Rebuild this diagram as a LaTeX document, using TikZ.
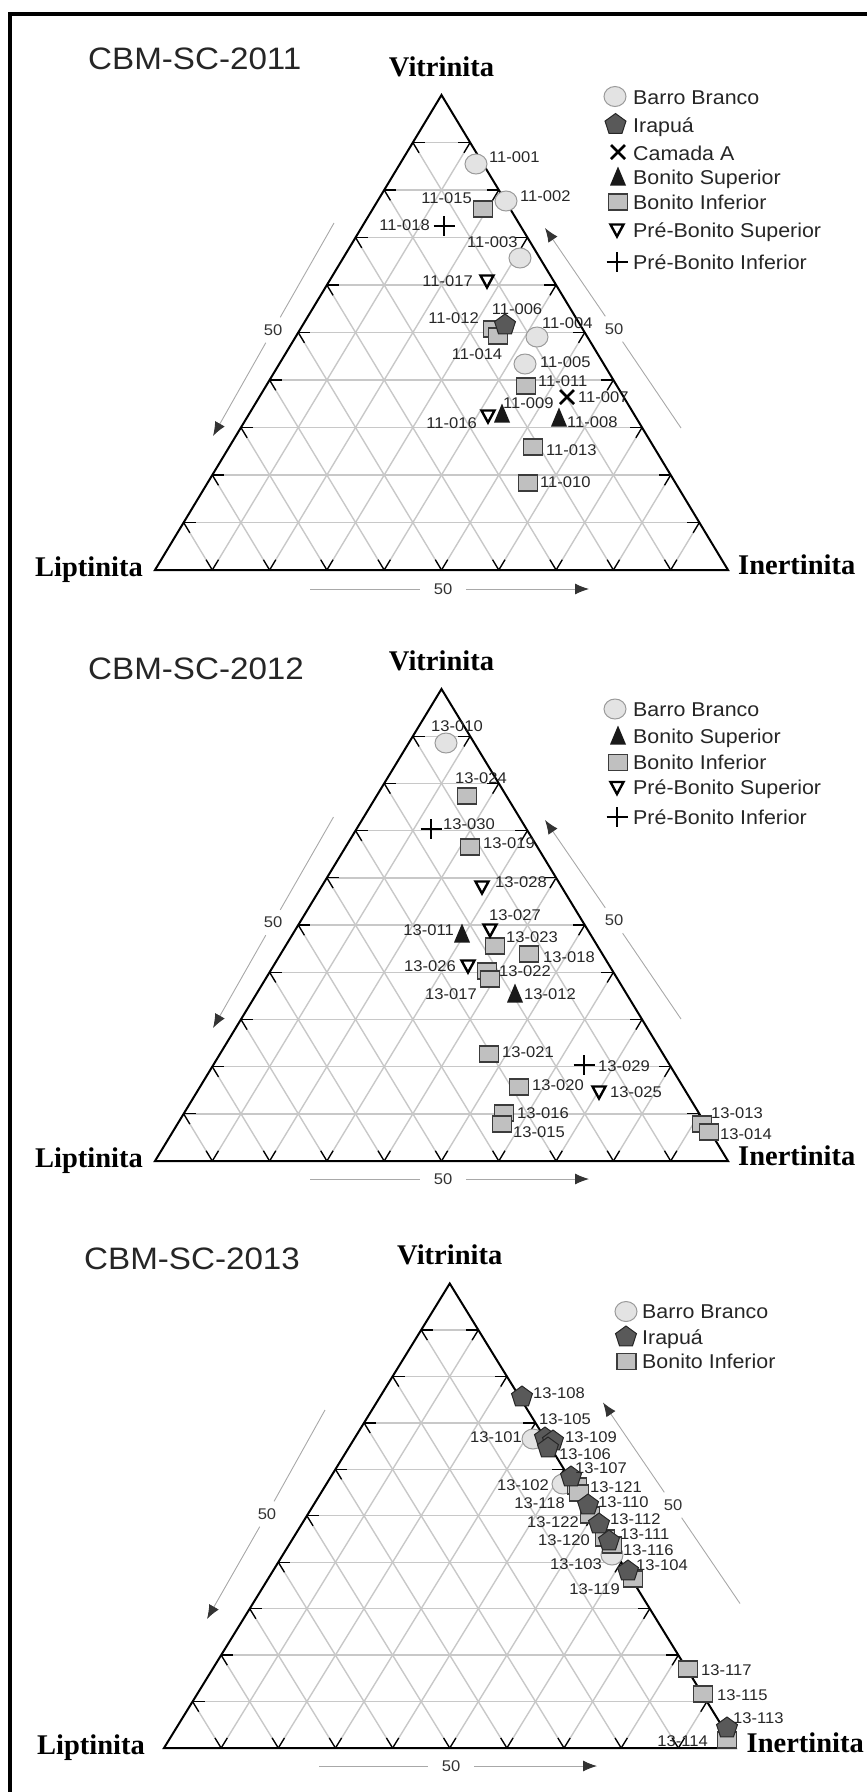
\documentclass[tikz,border=0pt]{standalone}
\usepackage{fontspec}
\setmainfont{Liberation Sans}[FakeStretch=1.07]
\newfontfamily\cornerfont{Liberation Serif}
\usetikzlibrary{positioning,arrows.meta}

\definecolor{bbfill}{HTML}{E3E3E3}
\definecolor{bbline}{HTML}{9A9A9A}
\definecolor{sqfill}{HTML}{C0C0C0}
\definecolor{sqline}{HTML}{3C3C3C}
\definecolor{irfill}{HTML}{595959}
\definecolor{gridgray}{HTML}{C8C8C8}
\definecolor{arrowgray}{HTML}{A8A8A8}
\definecolor{tipdark}{HTML}{333333}

% grid, ticks and outline of one ternary diagram (unit triangle)
\newcommand{\ternarygrid}[1]{%
  \foreach \i in {1,...,9}{%
    \pgfmathsetmacro{\levA}{\i/10}%
    \pgfmathsetmacro{\levB}{\i/20}%
    \pgfmathsetmacro{\levC}{(10+\i)/20}%
    \pgfmathsetmacro{\levD}{1-\i/10}%
    \draw[gridline] (\levB,\levA) -- ({1-\levB},\levA);
    \draw[gridline] (\levA,0) -- (\levB,\levA);
    \draw[gridline] (\levA,0) -- (\levC,\levD);
    \draw[tickline] (\levB,\levA) -- ++(0.021,0);
    \draw[tickline] ({1-\levB},\levA) -- ++(-0.021,0);
    \draw[tickline] (\levA,0) -- ++(-0.0108,0.0217);
    \draw[tickline] (\levB,\levA) -- ++(0.0108,-0.0217);
    \draw[tickline] (\levA,0) -- ++(0.0108,0.0217);
    \draw[tickline] (\levC,\levD) -- ++(-0.0108,-0.0217);
  }
  \draw[edgeline] (0,0) coordinate (t#1l) -- (1,0) coordinate (t#1r)
    -- (0.5,1) coordinate (t#1a) -- cycle;
}

\begin{document}
\begin{tikzpicture}[x=1pt,y=-1pt]
  \tikzstyle{gridline}=[draw=gridgray, line width=1.4pt]
  \tikzstyle{tickline}=[draw=black, line width=1.3pt]
  \tikzstyle{edgeline}=[draw=black, line width=2pt, line join=miter]
  \tikzstyle{axisline}=[draw=arrowgray, line width=0.9pt]
  \tikzstyle{axisarrow}=[axisline, -{Latex[length=14pt,width=11pt,color=tipdark]}]
  \tikzstyle{fifty}=[font=\fontsize{15.5}{17}\selectfont, text=tipdark, inner xsep=14pt, inner ysep=7pt]
  \tikzstyle{ptlabel}=[font=\fontsize{15.5}{17}\selectfont, text=black!85, inner sep=0pt]
  \tikzstyle{legtext}=[font=\fontsize{20}{22}\selectfont, text=black!85, inner sep=0pt, anchor=base west]
  \tikzstyle{title}=[font=\fontsize{31}{34}\selectfont, text=black!85, inner sep=0pt, anchor=base west]
  \tikzstyle{cornerlbl}=[font=\cornerfont\bfseries\fontsize{28.5}{30}\selectfont, inner sep=0pt]
  \tikzset{
    barro/.pic={\draw[fill=bbfill, draw=bbline, line width=1pt] (0,0) ellipse [x radius=11pt, y radius=10pt];},
    bonito/.pic={\draw[fill=sqfill, draw=sqline, line width=1.3pt] (-9.5,-8) rectangle (9.5,8);},
    irapua/.pic={\draw[fill=irfill, draw=black!85, line width=1pt] (90:11pt) -- (162:11pt) -- (234:11pt) -- (306:11pt) -- (18:11pt) -- cycle;},
    bsup/.pic={\fill[black!90] (0,-10.5) -- (8,8.5) -- (-8,8.5) -- cycle;},
    psup/.pic={\draw[fill=white, line width=2.4pt, line join=miter] (-6.5,-5.5) -- (6.5,-5.5) -- (0,6.5) -- cycle;},
    pinf/.pic={\draw[line width=2.8pt] (-10.5,0) -- (10.5,0) (0,-10) -- (0,10);},
    camada/.pic={\draw[line width=2.8pt] (-7,-7) -- (7,7) (-7,7) -- (7,-7);}
  }
  \useasboundingbox (0,0) rectangle (867,1792);
  \draw[line width=3.5pt] (10,1800) -- (10,14) -- (875,14);

  %% CBM-SC-2011
  \node[title] (tit1) at (88,69.5) {CBM-SC-2011};
  \begin{scope}[shift={(155,570)}, x={(573pt,0pt)}, y={(0pt,475pt)}]
    \ternarygrid{1}
  \end{scope}
  \node[cornerlbl, above=18pt of t1a] (vit1) {Vitrinita};
  \node[cornerlbl, left=12pt of t1l] (lip1) {Liptinita};
  \node[cornerlbl, right=10pt of t1r, yshift=5pt] (ine1) {Inertinita};
  \coordinate (a1l) at (334,223); \coordinate (b1l) at (213,436);
  \node[fifty] (f1l) at (273,330) {50};
  \draw[axisline] (a1l) -- (f1l); \draw[axisarrow] (f1l) -- (b1l);
  \coordinate (a1r) at (681,428); \coordinate (b1r) at (545,228);
  \node[fifty] (f1r) at (614,329) {50};
  \draw[axisline] (a1r) -- (f1r); \draw[axisarrow] (f1r) -- (b1r);
  \coordinate (a1b) at (310,589); \coordinate (b1b) at (589,589);
  \node[fifty] (f1b) at (443,589) {50};
  \draw[axisline] (a1b) -- (f1b); \draw[axisarrow] (f1b) -- (b1b);

  \foreach \px/\py in {476/164, 506/201, 520/258, 537/337, 525/364}
    \pic at (\px,\py) {barro};
  \foreach \px/\py in {483/209, 493/329, 498/336, 526/386, 533/447, 528/483}
    \pic at (\px,\py) {bonito};
  \pic at (505,325) {irapua};
  \pic at (567,397) {camada};
  \foreach \px/\py in {502/414, 559/418}
    \pic at (\px,\py) {bsup};
  \foreach \px/\py in {487/281, 488/416}
    \pic at (\px,\py) {psup};
  \pic at (444,226) {pinf};
  \foreach \an/\tx/\ty/\t in {west/489/157/11-001, west/520/196/11-002, east/472/198/11-015,
      east/430/225/11-018, west/467/242/11-003, east/473/281/11-017, center/517/309/11-006,
      east/479/318/11-012, center/477/354/11-014, west/542/323/11-004, west/540/362/11-005,
      west/538/381/11-011, west/578/397/11-007, west/503/403/11-009, east/477/423/11-016,
      west/567/422/11-008, west/546/450/11-013, west/540/482/11-010}
    \node[ptlabel, anchor=\an] (n\t) at (\tx,\ty) {\t};

  % legenda 2011
  \pic at (615,96.5) {barro};   \node[legtext] (lg1a) at (633,104) {Barro Branco};
  \pic at (615.5,124.5) {irapua}; \node[legtext] (lg1b) at (633,132) {Irapuá};
  \pic at (618,152) {camada};   \node[legtext] (lg1c) at (633,160) {Camada A};
  \pic at (618,177) {bsup};     \node[legtext] (lg1d) at (633,184) {Bonito Superior};
  \pic at (618,202) {bonito};   \node[legtext] (lg1e) at (633,209) {Bonito Inferior};
  \pic at (617,230) {psup};     \node[legtext] (lg1f) at (633,237) {Pré-Bonito Superior};
  \pic at (617,262) {pinf};     \node[legtext] (lg1g) at (633,269) {Pré-Bonito Inferior};

  %% CBM-SC-2012
  \node[title] (tit2) at (88,679) {CBM-SC-2012};
  \begin{scope}[shift={(155,1161)}, x={(573pt,0pt)}, y={(0pt,472pt)}]
    \ternarygrid{2}
  \end{scope}
  \node[cornerlbl, above=18pt of t2a] (vit2) {Vitrinita};
  \node[cornerlbl, left=12pt of t2l] (lip2) {Liptinita};
  \node[cornerlbl, right=10pt of t2r, yshift=5pt] (ine2) {Inertinita};
  \coordinate (a2l) at (333.5,817); \coordinate (b2l) at (213,1028);
  \node[fifty] (f2l) at (273,922.5) {50};
  \draw[axisline] (a2l) -- (f2l); \draw[axisarrow] (f2l) -- (b2l);
  \coordinate (a2r) at (681,1019); \coordinate (b2r) at (545,820);
  \node[fifty] (f2r) at (614,920.5) {50};
  \draw[axisline] (a2r) -- (f2r); \draw[axisarrow] (f2r) -- (b2r);
  \coordinate (a2b) at (310,1179); \coordinate (b2b) at (589,1179);
  \node[fifty] (f2b) at (443,1179) {50};
  \draw[axisline] (a2b) -- (f2b); \draw[axisarrow] (f2b) -- (b2b);

  \pic at (446,743) {barro};
  \foreach \px/\py in {467/796, 470/847, 495/946, 529/954, 487/971, 490/979, 489/1054,
      519/1087, 504/1113, 502/1124, 702/1124, 709/1132}
    \pic at (\px,\py) {bonito};
  \foreach \px/\py in {462/934, 515/994}
    \pic at (\px,\py) {bsup};
  \foreach \px/\py in {482/887, 490/930, 468/966, 599/1092}
    \pic at (\px,\py) {psup};
  \foreach \px/\py in {431/829, 584/1065}
    \pic at (\px,\py) {pinf};
  \foreach \an/\tx/\ty/\t in {center/457/726/13-010, center/481/778/13-024, west/443/824/13-030,
      west/483/843/13-019, west/495/882/13-028, center/515/915/13-027, east/454/930/13-011,
      west/506/937/13-023, west/543/957/13-018, east/456/966/13-026, west/499/971/13-022,
      east/477/994/13-017, west/524/994/13-012, west/502/1052/13-021, west/598/1066/13-029,
      west/532/1085/13-020, west/610/1092/13-025, west/517/1113/13-016, west/513/1132/13-015,
      west/711/1113/13-013, west/720/1134/13-014}
    \node[ptlabel, anchor=\an] (n\t) at (\tx,\ty) {\t};

  % legenda 2012
  \pic at (615,709) {barro};    \node[legtext] (lg2a) at (633,716) {Barro Branco};
  \pic at (618,736) {bsup};     \node[legtext] (lg2b) at (633,743) {Bonito Superior};
  \pic at (618,762.5) {bonito}; \node[legtext] (lg2c) at (633,769.5) {Bonito Inferior};
  \pic at (617,787.5) {psup};   \node[legtext] (lg2d) at (633,794.5) {Pré-Bonito Superior};
  \pic at (617,817) {pinf};     \node[legtext] (lg2e) at (633,824) {Pré-Bonito Inferior};

  %% CBM-SC-2013
  \node[title] (tit3) at (84,1269) {CBM-SC-2013};
  \begin{scope}[shift={(164,1748)}, x={(571.5pt,0pt)}, y={(0pt,464.5pt)}]
    \ternarygrid{3}
  \end{scope}
  \node[cornerlbl, above=18pt of t3a] (vit3) {Vitrinita};
  \node[cornerlbl, left=19pt of t3l] (lip3) {Liptinita};
  \node[cornerlbl, right=11pt of t3r, yshift=5pt] (ine3) {Inertinita};
  \coordinate (a3l) at (325,1410); \coordinate (b3l) at (207,1619);
  \node[fifty] (f3l) at (267,1514) {50};
  \draw[axisline] (a3l) -- (f3l); \draw[axisarrow] (f3l) -- (b3l);
  \coordinate (a3r) at (740,1603.5); \coordinate (b3r) at (603,1402.5);
  \node[fifty] (f3r) at (673,1505) {50};
  \draw[axisline] (a3r) -- (f3r); \draw[axisarrow] (f3r) -- (b3r);
  \coordinate (a3b) at (319,1766); \coordinate (b3b) at (597,1766);
  \node[fifty] (f3b) at (451,1766) {50};
  \draw[axisline] (a3b) -- (f3b); \draw[axisarrow] (f3b) -- (b3b);

  \foreach \px/\py in {533/1439, 563/1484, 612/1555}
    \pic at (\px,\py) {barro};
  \foreach \px/\py in {577/1486, 579/1493, 590/1515, 605/1538, 612/1545, 633/1579,
      688/1669, 703/1694, 727/1740}
    \pic at (\px,\py) {bonito};
  \foreach \px/\py in {522/1397, 545/1438, 553/1441, 548/1448, 571/1477, 588/1505,
      599/1524, 609/1541, 628/1571, 727/1728}
    \pic at (\px,\py) {irapua};
  \foreach \an/\tx/\ty/\t in {west/533/1393/13-108, center/565/1419/13-105, east/522/1437/13-101,
      west/565/1437/13-109, west/559/1454/13-106, west/575/1468/13-107, east/549/1485/13-102,
      west/590/1487/13-121, east/565/1503/13-118, west/598/1502/13-110, east/579/1522/13-122,
      west/610/1519/13-112, east/590/1540/13-120, west/620/1534/13-111, west/623/1550/13-116,
      east/602/1564/13-103, west/636/1565/13-104, east/620/1589/13-119, west/701/1670/13-117,
      west/717/1695/13-115, west/733/1718/13-113, east/708/1741/13-114}
    \node[ptlabel, anchor=\an] (n\t) at (\tx,\ty) {\t};

  % legenda 2013
  \pic at (626,1311.5) {barro};  \node[legtext] (lg3a) at (642,1318.5) {Barro Branco};
  \pic at (626,1337) {irapua};   \node[legtext] (lg3b) at (642,1344) {Irapuá};
  \pic at (626.5,1361.5) {bonito}; \node[legtext] (lg3c) at (642,1368.5) {Bonito Inferior};
\end{tikzpicture}
\end{document}
